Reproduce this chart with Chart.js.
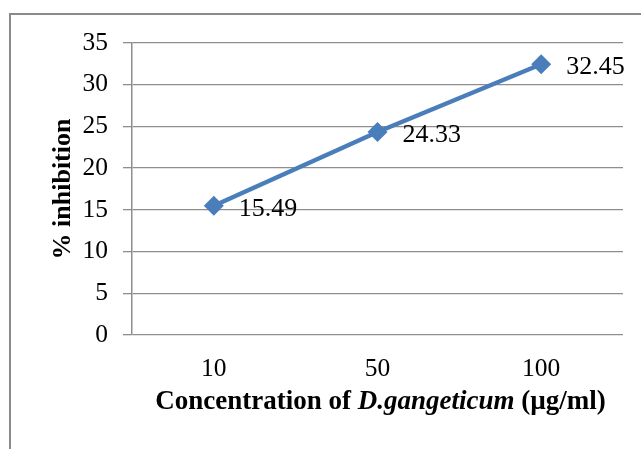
<!DOCTYPE html>
<html>
<head>
<meta charset="utf-8">
<script src="https://cdn.jsdelivr.net/npm/chart.js@4/dist/chart.umd.min.js"></script>
<style>
  html, body { margin: 0; padding: 0; background: #fff; overflow: hidden; }
  #wrap { position: relative; width: 641px; height: 449px; }
  #frame { position: absolute; left: 9px; top: 13px; width: 700px; height: 500px;
           border-top: 2px solid #8a8a8a; border-left: 2px solid #8a8a8a; }
  canvas { position: absolute; left: 0; top: 0; }
</style>
</head>
<body>
<div id="wrap">
  <div id="frame"></div>
  <canvas id="c" width="641" height="449"></canvas>
</div>
<script>
const categories = ["10", "50", "100"];
const inhibition = [15.49, 24.33, 32.45];
const yTicks = [0, 5, 10, 15, 20, 25, 30, 35];
const yTitle = "% inhibition";
const xTitleParts = [
  { text: "Concentration of ", style: "bold" },
  { text: "D.gangeticum", style: "italic bold" },
  { text: " (µg/ml)", style: "bold" }
];

const FONT = "'Liberation Serif', 'Times New Roman', serif";

const labelPlugin = {
  id: 'pointLabels',
  afterDatasetsDraw(chart) {
    const ctx = chart.ctx;
    const meta = chart.getDatasetMeta(0);
    ctx.save();
    ctx.font = "26px " + FONT;
    ctx.fillStyle = "#000";
    ctx.textAlign = "left";
    ctx.textBaseline = "middle";
    meta.data.forEach((pt, i) => {
      ctx.fillText(inhibition[i].toFixed(2), pt.x + 25, pt.y + 3);
    });
    ctx.restore();
  }
};

const xTitlePlugin = {
  id: 'xTitle',
  afterDraw(chart) {
    const ctx = chart.ctx;
    const area = chart.chartArea;
    ctx.save();
    ctx.fillStyle = "#000";
    ctx.textBaseline = "middle";
    ctx.textAlign = "left";
    let total = 0;
    const widths = xTitleParts.map(p => {
      ctx.font = p.style + " 27px " + FONT;
      const w = ctx.measureText(p.text).width;
      total += w;
      return w;
    });
    let x = (area.left + area.right) / 2 - total / 2 + 3;
    const y = 402;
    xTitleParts.forEach((p, i) => {
      ctx.font = p.style + " 27px " + FONT;
      ctx.fillText(p.text, x, y);
      x += widths[i];
    });
    ctx.restore();
  }
};

new Chart(document.getElementById('c'), {
  type: 'line',
  data: {
    labels: categories,
    datasets: [{
      data: inhibition,
      borderColor: '#4A7EBB',
      backgroundColor: '#4A7EBB',
      borderWidth: 4.5,
      pointStyle: 'rectRot',
      pointRadius: 10,
      pointHoverRadius: 10,
      pointBorderWidth: 0,
      pointBackgroundColor: '#4A7EBB',
      tension: 0,
      fill: false
    }]
  },
  options: {
    responsive: false,
    animation: false,
    events: [],
    layout: { padding: { left: 0, right: 18, top: 43, bottom: 0 } },
    plugins: { legend: { display: false }, tooltip: { enabled: false } },
    scales: {
      x: {
        offset: true,
        grid: { display: false, drawTicks: false },
        border: { display: false },
        ticks: { color: '#000', font: { family: FONT, size: 25.5 }, padding: 19 },
        afterFit(s) { s.height = 114; }
      },
      y: {
        min: 0, max: 35,
        afterBuildTicks(s) { s.ticks = yTicks.map(v => ({ value: v })); },
        grid: { color: '#8e8e8e', lineWidth: 1.3, drawTicks: true, tickLength: 9 },
        border: { display: true, color: '#8e8e8e', width: 1.5 },
        ticks: { color: '#000', font: { family: FONT, size: 25.5 }, padding: 15 },
        title: { display: true, text: yTitle, color: '#000',
                 font: { family: FONT, size: 26, weight: 'bold' },
                 padding: { top: 48, bottom: 0 } },
        afterFit(s) { s.width = 132; }
      }
    }
  },
  plugins: [labelPlugin, xTitlePlugin]
});
</script>
</body>
</html>
